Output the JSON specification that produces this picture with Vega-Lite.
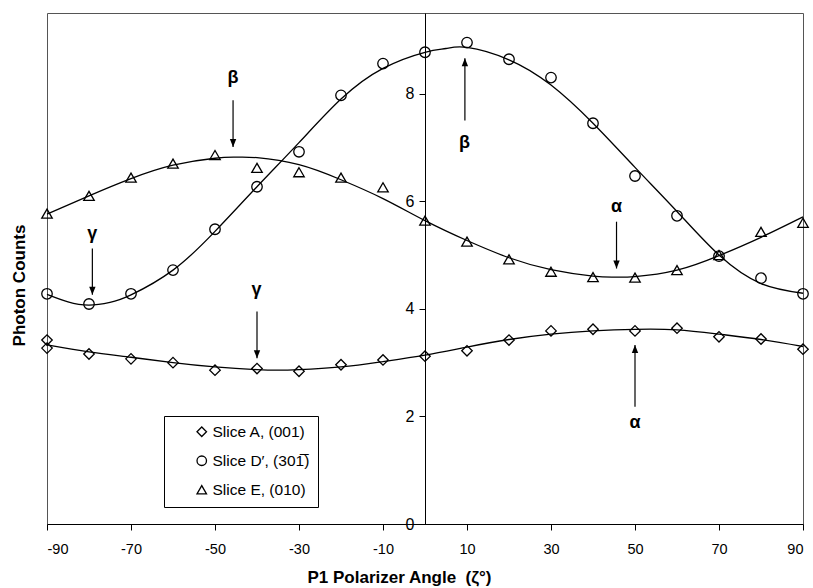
{
  "$schema": "https://vega.github.io/schema/vega-lite/v6.json",
  "width": 756,
  "height": 511,
  "autosize": {"type": "none"},
  "padding": {"left": 47, "top": 13, "right": 10, "bottom": 64},
  "config": {
    "view": {"stroke": "#555", "strokeWidth": 1},
    "font": "Liberation Sans",
    "axis": {"grid": false, "domainColor": "black", "tickColor": "black", "labelColor": "black", "titleColor": "black", "labelFont": "Liberation Sans", "titleFont": "Liberation Sans"},
    "axisY": {"labelFontSize": 16}
  },
  "datasets": {
    "fit": [
      {"slice": "A", "angle": -90, "counts": 3.33}, {"slice": "A", "angle": -80, "counts": 3.20}, {"slice": "A", "angle": -70, "counts": 3.10}, {"slice": "A", "angle": -60, "counts": 3.00}, {"slice": "A", "angle": -50, "counts": 2.92}, {"slice": "A", "angle": -40, "counts": 2.87}, {"slice": "A", "angle": -35, "counts": 2.86}, {"slice": "A", "angle": -30, "counts": 2.87}, {"slice": "A", "angle": -20, "counts": 2.92}, {"slice": "A", "angle": -10, "counts": 3.02}, {"slice": "A", "angle": 0, "counts": 3.14}, {"slice": "A", "angle": 10, "counts": 3.29}, {"slice": "A", "angle": 20, "counts": 3.43}, {"slice": "A", "angle": 30, "counts": 3.53}, {"slice": "A", "angle": 40, "counts": 3.59}, {"slice": "A", "angle": 50, "counts": 3.62}, {"slice": "A", "angle": 60, "counts": 3.61}, {"slice": "A", "angle": 70, "counts": 3.53}, {"slice": "A", "angle": 80, "counts": 3.43}, {"slice": "A", "angle": 90, "counts": 3.30},
      {"slice": "D", "angle": -90, "counts": 4.27}, {"slice": "D", "angle": -85, "counts": 4.13}, {"slice": "D", "angle": -80, "counts": 4.07}, {"slice": "D", "angle": -75, "counts": 4.12}, {"slice": "D", "angle": -70, "counts": 4.26}, {"slice": "D", "angle": -60, "counts": 4.72}, {"slice": "D", "angle": -50, "counts": 5.44}, {"slice": "D", "angle": -40, "counts": 6.27}, {"slice": "D", "angle": -30, "counts": 7.09}, {"slice": "D", "angle": -20, "counts": 7.90}, {"slice": "D", "angle": -10, "counts": 8.47}, {"slice": "D", "angle": 0, "counts": 8.77}, {"slice": "D", "angle": 5, "counts": 8.84}, {"slice": "D", "angle": 10, "counts": 8.86}, {"slice": "D", "angle": 20, "counts": 8.63}, {"slice": "D", "angle": 30, "counts": 8.16}, {"slice": "D", "angle": 40, "counts": 7.45}, {"slice": "D", "angle": 50, "counts": 6.63}, {"slice": "D", "angle": 60, "counts": 5.81}, {"slice": "D", "angle": 70, "counts": 5.00}, {"slice": "D", "angle": 80, "counts": 4.47}, {"slice": "D", "angle": 90, "counts": 4.29},
      {"slice": "E", "angle": -90, "counts": 5.76}, {"slice": "E", "angle": -80, "counts": 6.10}, {"slice": "E", "angle": -70, "counts": 6.42}, {"slice": "E", "angle": -60, "counts": 6.67}, {"slice": "E", "angle": -50, "counts": 6.80}, {"slice": "E", "angle": -45, "counts": 6.82}, {"slice": "E", "angle": -40, "counts": 6.81}, {"slice": "E", "angle": -30, "counts": 6.68}, {"slice": "E", "angle": -20, "counts": 6.40}, {"slice": "E", "angle": -10, "counts": 6.05}, {"slice": "E", "angle": 0, "counts": 5.64}, {"slice": "E", "angle": 10, "counts": 5.27}, {"slice": "E", "angle": 20, "counts": 4.95}, {"slice": "E", "angle": 30, "counts": 4.73}, {"slice": "E", "angle": 40, "counts": 4.61}, {"slice": "E", "angle": 45, "counts": 4.59}, {"slice": "E", "angle": 50, "counts": 4.60}, {"slice": "E", "angle": 60, "counts": 4.72}, {"slice": "E", "angle": 70, "counts": 4.99}, {"slice": "E", "angle": 80, "counts": 5.33}, {"slice": "E", "angle": 90, "counts": 5.71}
    ],
    "pts": [
      {"slice": "Slice A, (001)", "angle": -90, "counts": 3.42}, {"slice": "Slice A, (001)", "angle": -90, "counts": 3.27}, {"slice": "Slice A, (001)", "angle": -80, "counts": 3.16}, {"slice": "Slice A, (001)", "angle": -70, "counts": 3.07}, {"slice": "Slice A, (001)", "angle": -60, "counts": 3.00}, {"slice": "Slice A, (001)", "angle": -50, "counts": 2.86}, {"slice": "Slice A, (001)", "angle": -40, "counts": 2.89}, {"slice": "Slice A, (001)", "angle": -30, "counts": 2.84}, {"slice": "Slice A, (001)", "angle": -20, "counts": 2.96}, {"slice": "Slice A, (001)", "angle": -10, "counts": 3.05}, {"slice": "Slice A, (001)", "angle": 0, "counts": 3.12}, {"slice": "Slice A, (001)", "angle": 10, "counts": 3.22}, {"slice": "Slice A, (001)", "angle": 20, "counts": 3.42}, {"slice": "Slice A, (001)", "angle": 30, "counts": 3.59}, {"slice": "Slice A, (001)", "angle": 40, "counts": 3.62}, {"slice": "Slice A, (001)", "angle": 50, "counts": 3.59}, {"slice": "Slice A, (001)", "angle": 60, "counts": 3.64}, {"slice": "Slice A, (001)", "angle": 70, "counts": 3.48}, {"slice": "Slice A, (001)", "angle": 80, "counts": 3.44}, {"slice": "Slice A, (001)", "angle": 90, "counts": 3.25},
      {"slice": "Slice D′, (301̅)", "angle": -90, "counts": 4.28}, {"slice": "Slice D′, (301̅)", "angle": -80, "counts": 4.09}, {"slice": "Slice D′, (301̅)", "angle": -70, "counts": 4.28}, {"slice": "Slice D′, (301̅)", "angle": -60, "counts": 4.72}, {"slice": "Slice D′, (301̅)", "angle": -50, "counts": 5.48}, {"slice": "Slice D′, (301̅)", "angle": -40, "counts": 6.27}, {"slice": "Slice D′, (301̅)", "angle": -30, "counts": 6.92}, {"slice": "Slice D′, (301̅)", "angle": -20, "counts": 7.97}, {"slice": "Slice D′, (301̅)", "angle": -10, "counts": 8.56}, {"slice": "Slice D′, (301̅)", "angle": 0, "counts": 8.77}, {"slice": "Slice D′, (301̅)", "angle": 10, "counts": 8.95}, {"slice": "Slice D′, (301̅)", "angle": 20, "counts": 8.64}, {"slice": "Slice D′, (301̅)", "angle": 30, "counts": 8.30}, {"slice": "Slice D′, (301̅)", "angle": 40, "counts": 7.45}, {"slice": "Slice D′, (301̅)", "angle": 50, "counts": 6.47}, {"slice": "Slice D′, (301̅)", "angle": 60, "counts": 5.73}, {"slice": "Slice D′, (301̅)", "angle": 70, "counts": 4.98}, {"slice": "Slice D′, (301̅)", "angle": 80, "counts": 4.57}, {"slice": "Slice D′, (301̅)", "angle": 90, "counts": 4.28},
      {"slice": "Slice E, (010)", "angle": -90, "counts": 5.77}, {"slice": "Slice E, (010)", "angle": -80, "counts": 6.10}, {"slice": "Slice E, (010)", "angle": -70, "counts": 6.44}, {"slice": "Slice E, (010)", "angle": -60, "counts": 6.70}, {"slice": "Slice E, (010)", "angle": -50, "counts": 6.86}, {"slice": "Slice E, (010)", "angle": -40, "counts": 6.62}, {"slice": "Slice E, (010)", "angle": -30, "counts": 6.54}, {"slice": "Slice E, (010)", "angle": -20, "counts": 6.44}, {"slice": "Slice E, (010)", "angle": -10, "counts": 6.26}, {"slice": "Slice E, (010)", "angle": 0, "counts": 5.64}, {"slice": "Slice E, (010)", "angle": 10, "counts": 5.25}, {"slice": "Slice E, (010)", "angle": 20, "counts": 4.92}, {"slice": "Slice E, (010)", "angle": 30, "counts": 4.69}, {"slice": "Slice E, (010)", "angle": 40, "counts": 4.59}, {"slice": "Slice E, (010)", "angle": 50, "counts": 4.58}, {"slice": "Slice E, (010)", "angle": 60, "counts": 4.72}, {"slice": "Slice E, (010)", "angle": 70, "counts": 5.00}, {"slice": "Slice E, (010)", "angle": 80, "counts": 5.43}, {"slice": "Slice E, (010)", "angle": 90, "counts": 5.60}
    ],
    "arrows": [
      {"angle": -45.7, "counts": 7.88, "tip": 7.01, "dir": "down"},
      {"angle": -79.2, "counts": 5.12, "tip": 4.26, "dir": "down"},
      {"angle": -40.0, "counts": 3.95, "tip": 3.08, "dir": "down"},
      {"angle": 45.6, "counts": 5.62, "tip": 4.75, "dir": "down"},
      {"angle": 9.5, "counts": 7.50, "tip": 8.66, "dir": "up"},
      {"angle": 50.0, "counts": 2.18, "tip": 3.33, "dir": "up"}
    ],
    "labels": [
      {"angle": -45.7, "counts": 8.30, "txt": "β"},
      {"angle": -79.2, "counts": 5.40, "txt": "γ"},
      {"angle": -40.1, "counts": 4.35, "txt": "γ"},
      {"angle": 9.4, "counts": 7.08, "txt": "β"},
      {"angle": 45.6, "counts": 5.90, "txt": "α"},
      {"angle": 50.0, "counts": 1.88, "txt": "α"}
    ]
  },
  "layer": [
    {
      "data": {"name": "fit"},
      "mark": {"type": "line", "interpolate": "natural", "color": "black", "strokeWidth": 1.3},
      "encoding": {
        "x": {"field": "angle", "type": "quantitative", "scale": {"domain": [-90, 90], "nice": false, "zero": false},
          "axis": {"title": "P1 Polarizer Angle\u00a0\u00a0(ζ°)", "values": [-90, -70, -50, -30, -10, 10, 30, 50, 70, 90], "labelExpr": "'' + datum.value", "tickSize": 6, "labelPadding": 12, "labelFontSize": 14.5, "titleFontSize": 17, "titleFontWeight": "bold", "titleX": 352, "titleY": 53, "titleBaseline": "middle", "titleAlign": "center"}},
        "y": {"field": "counts", "type": "quantitative", "scale": {"domain": [0, 9.5], "nice": false},
          "axis": {"title": "Photon Counts", "values": [0, 2, 4, 6, 8], "labelExpr": "'' + datum.value", "offset": -378, "tickSize": 6, "labelPadding": 5, "labelFontSize": 16, "titleFontSize": 17, "titleFontWeight": "bold", "titleX": -406, "titleY": 272, "titleAngle": -90, "titleBaseline": "middle", "titleAlign": "center"}},
        "detail": {"field": "slice"}
      }
    },
    {
      "data": {"name": "pts"},
      "mark": {"type": "point", "filled": false, "color": "black", "strokeWidth": 1.3, "size": 110, "opacity": 1},
      "encoding": {
        "x": {"field": "angle", "type": "quantitative"},
        "y": {"field": "counts", "type": "quantitative"},
        "shape": {"field": "slice", "type": "nominal",
          "scale": {"domain": ["Slice A, (001)", "Slice D′, (301̅)", "Slice E, (010)"], "range": ["diamond", "circle", "triangle-up"]},
          "legend": {"title": null, "orient": "none", "legendX": 117, "legendY": 403, "strokeColor": "black", "fillColor": "white", "padding": 8, "labelFontSize": 15.5, "labelColor": "black", "symbolSize": 90, "symbolStrokeWidth": 1.3, "symbolStrokeColor": "black", "symbolFillColor": "transparent", "rowPadding": 12, "symbolOffset": 22, "labelOffset": 3, "cornerRadius": 0}}
      }
    },
    {
      "data": {"name": "arrows"},
      "mark": {"type": "rule", "color": "black", "strokeWidth": 1.2},
      "encoding": {
        "x": {"field": "angle", "type": "quantitative"},
        "y": {"field": "counts", "type": "quantitative"},
        "y2": {"field": "tip"}
      }
    },
    {
      "data": {"name": "arrows"},
      "transform": [{"filter": "datum.dir === 'down'"}],
      "mark": {"type": "point", "shape": "M-0.8,-2L0.8,-2L0,0Z", "filled": true, "color": "black", "size": 64, "opacity": 1},
      "encoding": {
        "x": {"field": "angle", "type": "quantitative"},
        "y": {"field": "tip", "type": "quantitative"}
      }
    },
    {
      "data": {"name": "arrows"},
      "transform": [{"filter": "datum.dir === 'up'"}],
      "mark": {"type": "point", "shape": "M-0.8,2L0.8,2L0,0Z", "filled": true, "color": "black", "size": 64, "opacity": 1},
      "encoding": {
        "x": {"field": "angle", "type": "quantitative"},
        "y": {"field": "tip", "type": "quantitative"}
      }
    },
    {
      "data": {"name": "labels"},
      "mark": {"type": "text", "font": "Liberation Sans", "fontSize": 18, "fontWeight": "bold", "color": "black", "baseline": "middle", "align": "center"},
      "encoding": {
        "x": {"field": "angle", "type": "quantitative"},
        "y": {"field": "counts", "type": "quantitative"},
        "text": {"field": "txt"}
      }
    }
  ]
}
